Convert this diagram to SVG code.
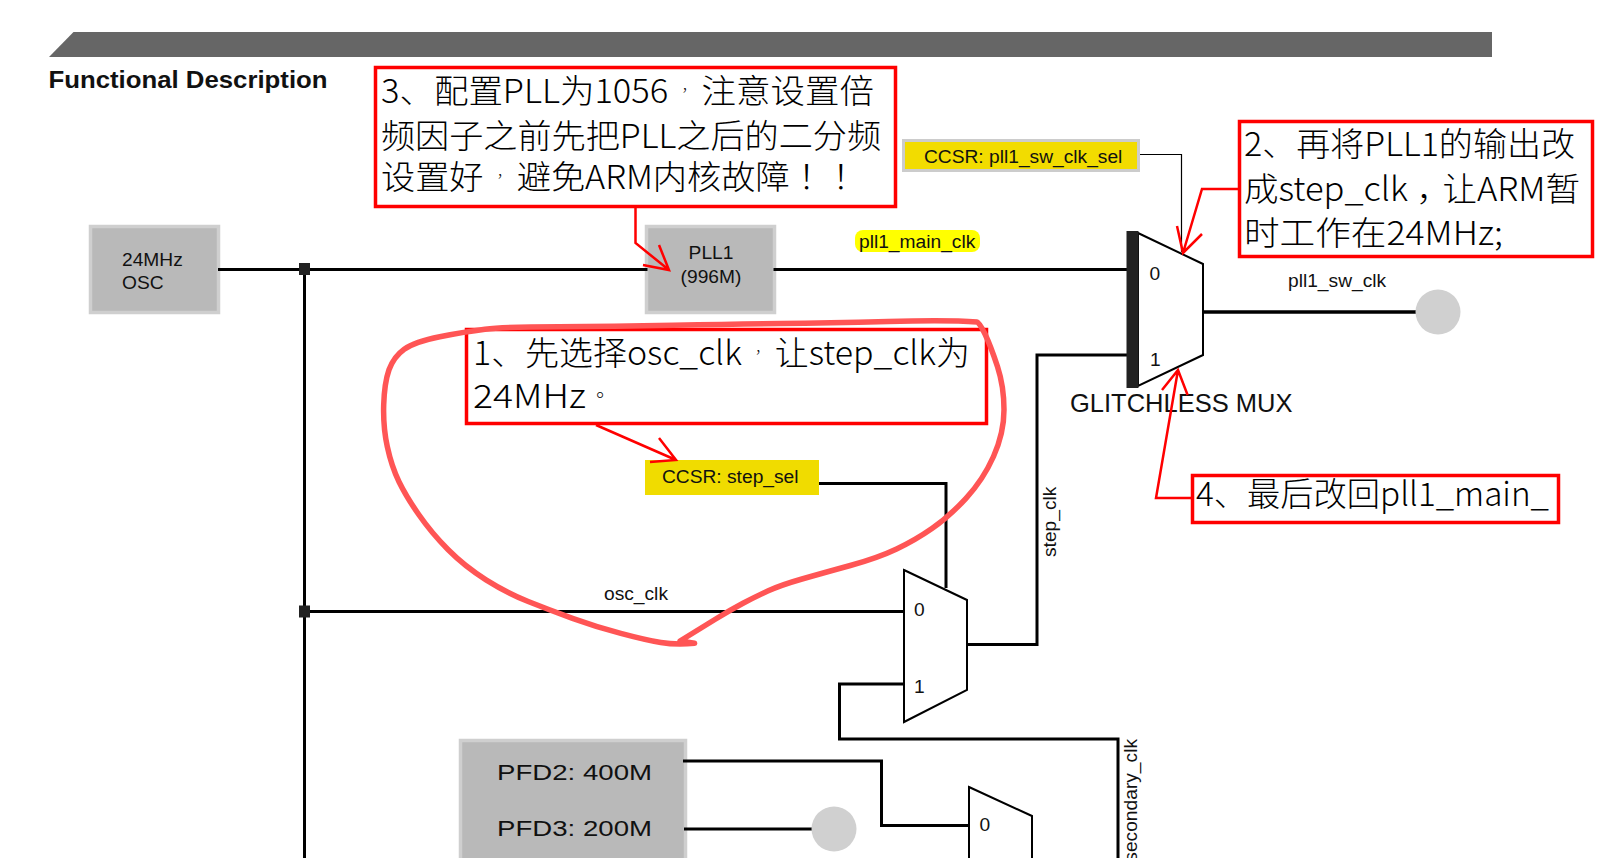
<svg xmlns="http://www.w3.org/2000/svg" width="1617" height="858" viewBox="0 0 1617 858">
<style>
text{font-family:"Liberation Sans",Arial,sans-serif;fill:#111;font-size:19.2px}
.note{font-family:"Noto Sans CJK SC",sans-serif;font-size:33px;font-weight:300;fill:#000}
.tc{font-family:"Noto Sans CJK TC",sans-serif}
.cm{font-family:"Noto Sans CJK TC",sans-serif;font-size:14px}
.box{fill:#b9b9b9;stroke:#cfcfcf;stroke-width:3.5}
.wire{fill:none;stroke:#000;stroke-width:3}
.thin{fill:none;stroke:#000;stroke-width:1.2}
.mux{fill:#fff;stroke:#000;stroke-width:2}
.call{fill:#fff;stroke:#f00;stroke-width:3.5}
.ln{fill:none;stroke:#f00;stroke-width:2.5}
.dot{fill:#d0d0d0}
.sq{fill:#222}
</style>
<rect width="1617" height="858" fill="#fff"/>
<polygon points="49,57 73.5,32 1492,32 1492,57" fill="#666"/>
<text x="48.5" y="88" font-weight="bold" style="font-size:24px" textLength="279" lengthAdjust="spacingAndGlyphs">Functional Description</text>

<g id="osc"><rect class="box" x="90.500" y="226.500" width="128" height="86"/><text x="122" y="265.500">24MHz</text><text x="122" y="288.500">OSC</text></g>
<g id="pll1"><rect class="box" x="646.500" y="226.500" width="128" height="86"/><text x="711" y="258.500" text-anchor="middle">PLL1</text><text x="711" y="283" text-anchor="middle">(996M)</text></g>
<g id="pfd"><rect class="box" x="460.500" y="740.500" width="225" height="130"/>
<text x="497" y="779.500" style="font-size:22px" textLength="155" lengthAdjust="spacingAndGlyphs">PFD2: 400M</text>
<text x="497" y="835.500" style="font-size:22px" textLength="155" lengthAdjust="spacingAndGlyphs">PFD3: 200M</text></g>

<g id="connectors">
<path class="wire" d="M218 269.500H647.500M773.500 269.500H1127"/>
<path class="wire" d="M304.500 269V858"/>
<path class="wire" d="M304 611.500H904"/>
<path class="wire" d="M967 644.500H1037V355H1127"/>
<path class="wire" d="M819 483.500H946V588"/>
<path class="wire" d="M904 684H839.500V739H1118V858"/>
<path class="wire" d="M683 761H881.500V825.500H969"/>
<path class="wire" d="M684 829H812"/>
<path class="wire" style="stroke-width:3.5" d="M1203 312H1416"/>
<path class="thin" d="M1139 154.500H1181.500V252"/>
<rect class="sq" x="299" y="263" width="11" height="12"/>
<rect class="sq" x="299" y="605.500" width="11" height="12"/>
</g>

<g id="pll1-main-clk"><rect x="855" y="230" width="125" height="22" rx="8" fill="#ff0"/><text x="859" y="247.500">pll1_main_clk</text></g>
<g id="ccsr-sw"><rect x="903.500" y="140.500" width="235" height="30" fill="#f2dc00" stroke="#ccc" stroke-width="3"/><text x="924" y="163">CCSR: pll1_sw_clk_sel</text></g>
<g id="ccsr-step"><rect x="645" y="460" width="174" height="35" fill="#f0dc00"/><text x="662" y="483">CCSR: step_sel</text></g>

<g id="glitchless-mux">
<polygon class="mux" points="1138,233 1203,264 1203,355 1138,386"/>
<rect class="sq" x="1126.500" y="231" width="12" height="157"/>
<text x="1149.500" y="280">0</text><text x="1150" y="366">1</text>
<text x="1070" y="411.500" style="font-size:25.5px">GLITCHLESS MUX</text>
</g>
<g id="sw-out"><ellipse class="dot" cx="1438" cy="312" rx="22.500" ry="22.500"/><text x="1288" y="287">pll1_sw_clk</text></g>
<g id="mux2"><polygon class="mux" points="904,570 967,600 967,690 904,722"/><text x="914" y="616">0</text><text x="914" y="693">1</text></g>
<g id="mux3"><polygon class="mux" points="969,787 1032,816 1032,906 969,938"/><text x="979.500" y="831">0</text></g>
<g id="pfd3-out"><ellipse class="dot" cx="834" cy="829" rx="22.500" ry="22.500"/></g>
<text x="604" y="600">osc_clk</text>
<text transform="translate(1056 557) rotate(-90)">step_clk</text>
<text transform="translate(1137 739) rotate(-90)" text-anchor="end">secondary_clk</text>

<g id="note3"><rect class="call" x="375.500" y="67.500" width="520" height="139"/>
<text class="note" x="381" y="103" textLength="493" lengthAdjust="spacingAndGlyphs">3、配置PLL为1056<tspan class="cm" dx="9" dy="-8">，</tspan><tspan dx="9" dy="8">注意设置倍</tspan></text>
<text class="note" x="381" y="148" textLength="500" lengthAdjust="spacingAndGlyphs">频因子之前先把PLL之后的二分频</text>
<text class="note" x="381" y="189" textLength="477" lengthAdjust="spacingAndGlyphs">设置好<tspan class="cm" dx="9" dy="-8">，</tspan><tspan dx="9" dy="8">避免ARM内核故障</tspan><tspan class="tc">！！</tspan></text></g>
<g id="note2"><rect class="call" x="1239.500" y="121.500" width="353" height="135"/>
<text class="note" x="1244" y="156" textLength="331" lengthAdjust="spacingAndGlyphs">2、再将PLL1的输出改</text>
<text class="note" x="1244" y="201" textLength="336" lengthAdjust="spacingAndGlyphs">成step_clk<tspan dx="8">，</tspan><tspan dx="-8">让ARM暂</tspan></text>
<text class="note" x="1244" y="245" textLength="259" lengthAdjust="spacingAndGlyphs">时工作在24MHz;</text></g>
<g id="note1"><rect class="call" x="466.500" y="329.500" width="520" height="94"/>
<text class="note" x="473" y="365" textLength="497" lengthAdjust="spacingAndGlyphs">1、先选择osc_clk<tspan class="cm" dx="9" dy="-8">，</tspan><tspan dx="9" dy="8">让step_clk为</tspan></text>
<text class="note" x="473" y="408"><tspan textLength="113" lengthAdjust="spacingAndGlyphs">24MHz</tspan><tspan class="tc" style="font-size:20px" dx="4" dy="-5">。</tspan></text></g>
<g id="note4"><rect class="call" x="1192.500" y="475.500" width="366" height="47"/>
<text class="note" x="1196" y="506" textLength="353" lengthAdjust="spacingAndGlyphs">4、最后改回pll1_main_</text></g>

<g id="callout-arrows">
<path class="ln" d="M635.500 208V243L669 270M659 245L669 270L643 265"/>
<path class="ln" d="M1238 189H1202L1183 253M1177 226L1183 253L1202 234"/>
<path class="ln" d="M596 425L676 460M659 438L676 460L650 462"/>
<path class="ln" d="M1191 498H1156L1178 370M1162 390L1178 370L1187.600 395"/>
<path fill="none" stroke="#f55" stroke-width="5.500" stroke-linecap="round" stroke-linejoin="round" d="M977 322Q949 320 888 321.500Q827 323 780.800 323.500Q734.600 324 673.500 325.300Q612.500 326.700 558.700 326.700Q505 326.700 485 329.200Q465 331.700 439.800 336.700Q414.700 341.700 404.200 349.200Q393.700 356.700 389 369.800Q384.400 383 383.700 404.800Q383 426.700 387.300 446.700Q391.600 466.700 399 481.700Q406.300 496.700 418.900 514.800Q431.500 533 448.200 549.800Q465 566.700 486 579.800Q507 593 528.200 601.500Q549.400 610 572.500 618.300Q595.700 626.700 620.800 633.300Q646 640 660.800 642.500Q675.700 645 694.600 643.300L680 641Q701 628 715.700 619Q730.400 610 743 603.300Q755.600 596.700 768.300 590.800Q781 585 802 579Q823 573 850.300 565.500Q877.700 558 896.600 549Q915.600 540 932.300 528.300Q949 516.700 966 498.300Q983 480 993.500 456.500Q1004 433 1004 409.800Q1004 386.700 997.500 366.700Q991 346.700 985 334Q979 322 977 322"/>
</g>
</svg>
